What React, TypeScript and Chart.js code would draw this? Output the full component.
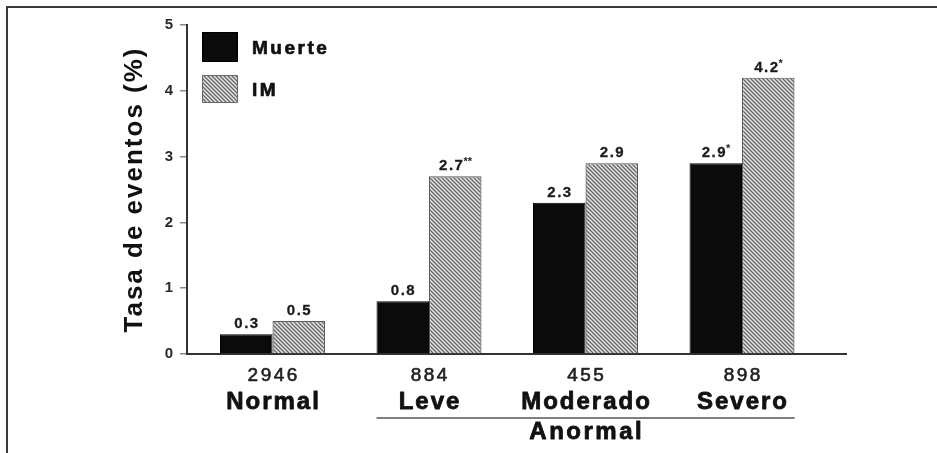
import { useEffect, useRef } from "react";
import { Chart, registerables } from "chart.js";

Chart.register(...registerables);

// Event rates (%) by severity group
const categories = ["Normal", "Leve", "Moderado", "Severo"];
const patientCounts = ["2946", "884", "455", "898"];
const categoryPositions = [1, 2, 3, 4];
const groupLabel = "Anormal";
const groupFirstIndex = 1;
const groupLastIndex = 3;

const seriesNames = ["Muerte", "IM"];
const muerteValues = [0.3, 0.8, 2.3, 2.9];
const imValues = [0.5, 2.7, 2.9, 4.2];
const muerteMarks = ["", "", "", "*"];
const imMarks = ["", "**", "", "*"];

const yTicks = [0, 1, 2, 3, 4, 5];
const yTitle = "Tasa de eventos (%)";

// horizontal extent of the category axis
const X_MIN = 0.4537;
const X_MAX = 4.6645;

const FAMILY = "'Liberation Sans', Arial, Helvetica, sans-serif";

function makeHatch(): CanvasPattern | string {
  const size = 4;
  const c = document.createElement("canvas");
  c.width = size;
  c.height = size;
  const g = c.getContext("2d");
  if (!g) return "#aaa";
  g.fillStyle = "#e4e4e4";
  g.fillRect(0, 0, size, size);
  g.strokeStyle = "#666";
  g.lineWidth = 1.3;
  g.beginPath();
  g.moveTo(-1, -1);
  g.lineTo(size + 1, size + 1);
  g.moveTo(-1, size - 1);
  g.lineTo(1, size + 1);
  g.moveTo(size - 1, -1);
  g.lineTo(size + 1, 1);
  g.stroke();
  return g.createPattern(c, "repeat") || "#aaa";
}

function setSpacing(ctx: CanvasRenderingContext2D, px: number) {
  (ctx as any).letterSpacing = `${px}px`;
}

// centred text with tracking and an optional stroke to thicken the glyphs
function drawSpaced(
  ctx: CanvasRenderingContext2D,
  text: string,
  cx: number,
  y: number,
  font: string,
  spacing: number,
  heavy = 0
) {
  ctx.font = font;
  setSpacing(ctx, spacing);
  const w = ctx.measureText(text).width - spacing;
  ctx.textAlign = "left";
  ctx.fillText(text, cx - w / 2, y);
  if (heavy > 0) {
    ctx.lineWidth = heavy;
    ctx.strokeStyle = ctx.fillStyle as string;
    ctx.lineJoin = "round";
    ctx.strokeText(text, cx - w / 2, y);
  }
}

export default function App() {
  const ref = useRef<HTMLCanvasElement | null>(null);

  useEffect(() => {
    const canvas = ref.current;
    if (!canvas) return;
    const hatch = makeHatch();

    const decor = {
      id: "decor",
      beforeDraw(chart: any) {
        const ctx: CanvasRenderingContext2D = chart.ctx;
        ctx.save();
        ctx.strokeStyle = "#3a3a3a";
        ctx.lineWidth = 2;
        ctx.beginPath();
        ctx.moveTo(7, chart.height);
        ctx.lineTo(7, 7);
        ctx.lineTo(chart.width, 7);
        ctx.stroke();
        ctx.restore();
        setSpacing(ctx, 2);
      },
      afterDatasetsDraw(chart: any) {
        const ctx: CanvasRenderingContext2D = chart.ctx;
        const sets = [
          { values: muerteValues, marks: muerteMarks },
          { values: imValues, marks: imMarks },
        ];
        ctx.save();
        ctx.fillStyle = "#1c1c1c";
        ctx.strokeStyle = "#1c1c1c";
        ctx.textBaseline = "alphabetic";
        sets.forEach((s, di) => {
          const meta = chart.getDatasetMeta(di);
          meta.data.forEach((bar: any, i: number) => {
            const num = s.values[i].toFixed(1);
            const mark = s.marks[i];
            ctx.font = `bold 15px ${FAMILY}`;
            setSpacing(ctx, 1.5);
            const w1 = ctx.measureText(num).width;
            ctx.font = `bold 11px ${FAMILY}`;
            setSpacing(ctx, 0);
            const w2 = mark ? ctx.measureText(mark).width : 0;
            const start = bar.x - (w1 + w2 - 1.5) / 2;
            const y = bar.y - 6;
            ctx.textAlign = "left";
            ctx.font = `bold 15px ${FAMILY}`;
            setSpacing(ctx, 1.5);
            ctx.fillText(num, start, y);
            ctx.lineWidth = 0.3;
            ctx.strokeText(num, start, y);
            if (mark) {
              ctx.font = `bold 11px ${FAMILY}`;
              setSpacing(ctx, 0);
              ctx.fillText(mark, start + w1 - 1, y - 5);
            }
          });
        });
        ctx.restore();
      },
      afterDraw(chart: any) {
        const ctx: CanvasRenderingContext2D = chart.ctx;
        const xs = chart.scales.x;
        const area = chart.chartArea;
        const base = xs.top;
        ctx.save();
        ctx.textBaseline = "alphabetic";

        // category labels: patient count over group name
        categoryPositions.forEach((v, i) => {
          const px = xs.getPixelForValue(v);
          ctx.fillStyle = "#222";
          drawSpaced(ctx, patientCounts[i], px, base + 27, `19px ${FAMILY}`, 2.5, 0.6);
          ctx.fillStyle = "#111";
          drawSpaced(ctx, categories[i], px, base + 55, `bold 24px ${FAMILY}`, 2, 0.8);
        });

        // bracket for the abnormal groups
        const m0 = chart.getDatasetMeta(0).data[groupFirstIndex];
        const m1 = chart.getDatasetMeta(1).data[groupLastIndex];
        const x0 = m0.x - m0.width / 2;
        const x1 = m1.x + m1.width / 2;
        ctx.strokeStyle = "#555";
        ctx.lineWidth = 1.5;
        ctx.beginPath();
        ctx.moveTo(x0, base + 64);
        ctx.lineTo(x1, base + 64);
        ctx.stroke();
        ctx.fillStyle = "#111";
        drawSpaced(ctx, groupLabel, (x0 + x1) / 2, base + 85, `bold 24px ${FAMILY}`, 2.5, 0.8);

        // legend
        const lx = area.left + 15;
        const boxes = [
          { top: area.top + 7, h: 30, fill: "#0b0b0b", stroke: "#000" },
          { top: area.top + 50, h: 28, fill: hatch, stroke: "#6a6a6a" },
        ];
        boxes.forEach((b, i) => {
          ctx.fillStyle = b.fill as any;
          ctx.fillRect(lx, b.top, 36, b.h);
          ctx.strokeStyle = b.stroke;
          ctx.lineWidth = 1;
          ctx.strokeRect(lx + 0.5, b.top + 0.5, 35, b.h - 1);
          ctx.fillStyle = "#111";
          ctx.strokeStyle = "#111";
          ctx.font = `bold 19px ${FAMILY}`;
          setSpacing(ctx, 2.5);
          ctx.textAlign = "left";
          ctx.textBaseline = "middle";
          ctx.fillText(seriesNames[i], lx + 50, b.top + b.h / 2 + 2);
          ctx.lineWidth = 0.7;
          ctx.strokeText(seriesNames[i], lx + 50, b.top + b.h / 2 + 2);
        });
        ctx.restore();
        setSpacing(ctx, 0);
      },
    };

    const chart = new Chart(canvas, {
      type: "bar",
      data: {
        datasets: [
          {
            label: seriesNames[0],
            data: categoryPositions.map((x, i) => ({ x, y: muerteValues[i] })),
            backgroundColor: "#0b0b0b",
            borderColor: "#000",
            borderWidth: 1,
          },
          {
            label: seriesNames[1],
            data: categoryPositions.map((x, i) => ({ x, y: imValues[i] })),
            backgroundColor: hatch as any,
            borderColor: "#5a5a5a",
            borderWidth: 1.2,
          },
        ],
      },
      options: {
        animation: false,
        responsive: false,
        maintainAspectRatio: false,
        datasets: {
          bar: { categoryPercentage: 0.671, barPercentage: 1 },
        },
        layout: { padding: { top: 25, right: 91, left: 0, bottom: 0 } },
        plugins: {
          legend: { display: false },
          tooltip: { enabled: false },
        },
        scales: {
          x: {
            type: "linear",
            offset: false,
            bounds: "data",
            min: X_MIN,
            max: X_MAX,
            afterDataLimits: (axis: any) => {
              axis.min = X_MIN;
              axis.max = X_MAX;
            },
            afterBuildTicks: (axis: any) => {
              axis.ticks = categoryPositions.map((v) => ({ value: v }));
              axis.min = X_MIN;
              axis.max = X_MAX;
            },
            afterFit: (s: any) => {
              s.height = 99;
            },
            grid: { display: false, drawTicks: false, offset: false },
            border: { display: true, color: "#333", width: 2 },
            ticks: { display: false },
          },
          y: {
            min: 0,
            max: 5,
            afterBuildTicks: (axis: any) => {
              axis.ticks = yTicks.map((v) => ({ value: v }));
            },
            afterFit: (s: any) => {
              s.width = 187;
            },
            grid: {
              drawOnChartArea: false,
              drawTicks: true,
              tickLength: 7,
              color: "#8a8a8a",
              lineWidth: 1.5,
            },
            border: { color: "#333", width: 2 },
            ticks: {
              font: { family: FAMILY, size: 15, weight: "bold" },
              color: "#2a2a2a",
              padding: 5,
            },
            title: {
              display: true,
              text: yTitle,
              font: { family: FAMILY, size: 26, weight: "bold" },
              color: "#111",
              padding: { top: 119, bottom: 0 },
            },
          },
        },
      } as any,
      plugins: [decor],
    });

    return () => chart.destroy();
  }, []);

  return (
    <div style={{ position: "fixed", left: 0, top: 0, width: 937, height: 453, background: "#fff" }}>
      <canvas ref={ref} width={937} height={453} style={{ display: "block" }} />
    </div>
  );
}
